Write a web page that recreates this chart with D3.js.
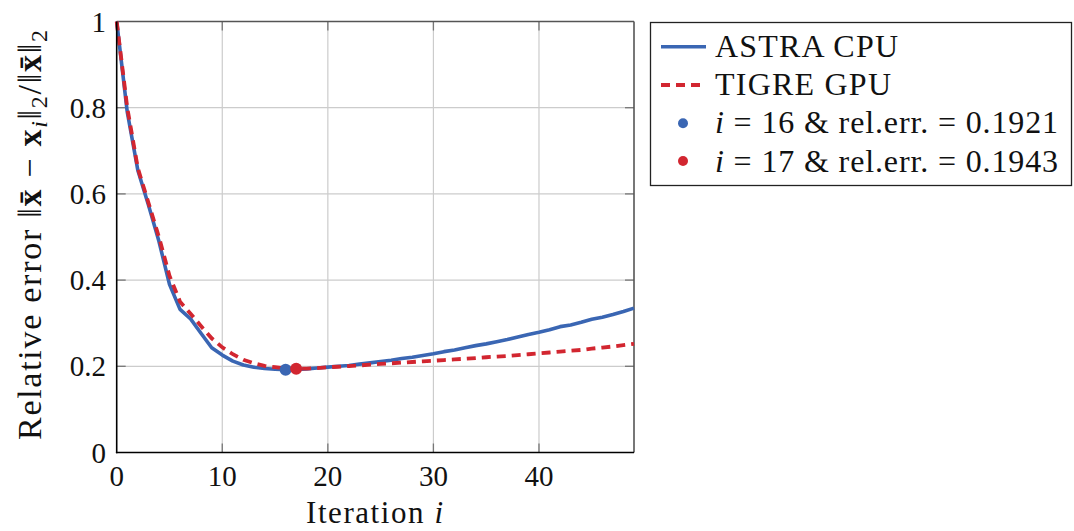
<!DOCTYPE html>
<html><head><meta charset="utf-8">
<script src="https://cdn.jsdelivr.net/npm/d3@7"></script>
<style>
html,body{margin:0;padding:0;background:#fff;}
svg{display:block;}
text{font-family:"Liberation Serif","Times New Roman",serif;fill:#111;}
</style></head>
<body><svg id="chart" width="1074" height="531"></svg>
<script>
const iterations = d3.range(0, 50);
const astraCPU = [1.0,0.79,0.655,0.575,0.49,0.39,0.332,0.31,0.276,0.243,
  0.226,0.212,0.203,0.198,0.195,0.1932,0.1921,0.1925,0.194,0.196,
  0.198,0.200,0.202,0.205,0.208,0.211,0.214,0.218,0.221,0.225,
  0.229,0.234,0.238,0.243,0.248,0.252,0.257,0.262,0.268,0.274,
  0.279,0.285,0.292,0.296,0.302,0.309,0.314,0.320,0.327,0.335];
const tigreGPU = [1.0,0.80,0.66,0.58,0.50,0.41,0.35,0.322,0.293,0.265,
  0.244,0.228,0.215,0.207,0.201,0.198,0.1955,0.1943,0.1948,0.196,
  0.198,0.199,0.2005,0.202,0.204,0.2055,0.207,0.2085,0.210,0.2115,
  0.213,0.2145,0.216,0.2175,0.219,0.221,0.2225,0.224,0.226,0.228,
  0.230,0.232,0.234,0.236,0.238,0.241,0.2435,0.246,0.249,0.252];
const minPoints = [
  {name:"astra", i:16, v:0.1921},
  {name:"tigre", i:17, v:0.1943}
];
const xTicks = [0,10,20,30,40];
const yTicks = [0,0.2,0.4,0.6,0.8,1];
const seriesNames = ["ASTRA CPU","TIGRE GPU"];

const BLUE = "#3a66b3", RED = "#d22630";
const svg = d3.select("#chart");
const x = d3.scaleLinear().domain([0,49]).range([116.7,634]);
const y = d3.scaleLinear().domain([0,1]).range([452.5,21.5]);
const L = x.range()[0], R = x.range()[1], T = y.range()[1], B = y.range()[0];

// grid
const g = svg.append("g");
g.selectAll(".gx").data(xTicks.filter(d=>d>0)).join("line")
  .attr("x1",d=>x(d)).attr("x2",d=>x(d)).attr("y1",T).attr("y2",B)
  .attr("stroke","#cccccc").attr("stroke-width",1.2);
g.selectAll(".gy").data(yTicks.filter(d=>d>0&&d<1)).join("line")
  .attr("x1",L).attr("x2",R).attr("y1",d=>y(d)).attr("y2",d=>y(d))
  .attr("stroke","#cccccc").attr("stroke-width",1.2);

// inner ticks
const tk = 9, tc = "#777";
g.selectAll(".tb").data(xTicks.filter(d=>d>0)).join("line")
  .attr("x1",d=>x(d)).attr("x2",d=>x(d)).attr("y1",B).attr("y2",B-tk).attr("stroke",tc).attr("stroke-width",1.3);
g.selectAll(".tt").data(xTicks.filter(d=>d>0)).join("line")
  .attr("x1",d=>x(d)).attr("x2",d=>x(d)).attr("y1",T).attr("y2",T+tk).attr("stroke",tc).attr("stroke-width",1.3);
g.selectAll(".tl").data(yTicks.filter(d=>d>0&&d<1)).join("line")
  .attr("x1",L).attr("x2",L+tk).attr("y1",d=>y(d)).attr("y2",d=>y(d)).attr("stroke",tc).attr("stroke-width",1.3);
g.selectAll(".tr").data(yTicks.filter(d=>d>0&&d<1)).join("line")
  .attr("x1",R).attr("x2",R-tk).attr("y1",d=>y(d)).attr("y2",d=>y(d)).attr("stroke",tc).attr("stroke-width",1.3);

// frame: top/right gray, left/bottom black
svg.append("line").attr("x1",L).attr("x2",R).attr("y1",T).attr("y2",T).attr("stroke","#555").attr("stroke-width",1.6);
svg.append("line").attr("x1",R).attr("x2",R).attr("y1",T).attr("y2",B).attr("stroke","#555").attr("stroke-width",1.6);

// lines
const line = d3.line().x((d,i)=>x(iterations[i])).y(d=>y(d));
svg.append("path").datum(astraCPU).attr("d",line).attr("fill","none")
  .attr("stroke",BLUE).attr("stroke-width",3.6).attr("stroke-linejoin","round");
svg.append("path").datum(tigreGPU).attr("d",line).attr("fill","none")
  .attr("stroke",RED).attr("stroke-width",3.8).attr("stroke-dasharray","9,6");

// markers
svg.selectAll(".mk").data(minPoints).join("circle")
  .attr("cx",d=>x(d.i)).attr("cy",d=>y(d.v)).attr("r",6)
  .attr("fill",d=>d.name==="astra"?BLUE:RED);

svg.append("line").attr("x1",L).attr("x2",L).attr("y1",T).attr("y2",B+0.8).attr("stroke","#000").attr("stroke-width",1.6);
svg.append("line").attr("x1",L-0.8).attr("x2",R).attr("y1",B).attr("y2",B).attr("stroke","#000").attr("stroke-width",1.6);

// tick labels
svg.selectAll(".xl").data(xTicks).join("text")
  .attr("x",d=>x(d)).attr("y",486).attr("text-anchor","middle")
  .style("font-size","29px").text(d=>d3.format("d")(d));
svg.selectAll(".yl").data(yTicks).join("text")
  .attr("x",106).attr("y",d=>y(d)+10).attr("text-anchor","end")
  .style("font-size","29px").text(d=>d===0||d===1?String(d):d3.format(".1f")(d));

// axis titles
const xt = svg.append("text").attr("x",306).attr("y",523)
  .attr("textLength",137).attr("lengthAdjust","spacing").style("font-size","31px");
xt.append("tspan").text("Iteration ");
xt.append("tspan").style("font-style","italic").text("i");

const yt = svg.append("text").attr("transform",`translate(41,440) rotate(-90)`)
  .attr("textLength",410).attr("lengthAdjust","spacing").style("font-size","34px");
yt.append("tspan").text("Relative error \u2016");
yt.append("tspan").style("font-weight","bold").text("x\u0304");
yt.append("tspan").text(" \u2212 ");
yt.append("tspan").style("font-weight","bold").text("x");
yt.append("tspan").attr("dy",6).style("font-style","italic").style("font-size","24px").text("i");
yt.append("tspan").attr("dy",-6).text("\u2016");
yt.append("tspan").attr("dy",6).style("font-size","24px").text("2");
yt.append("tspan").attr("dy",-6).text("/\u2016");
yt.append("tspan").style("font-weight","bold").text("x\u0304");
yt.append("tspan").text("\u2016");
yt.append("tspan").attr("dy",6).style("font-size","24px").text("2");

// legend
const lg = svg.append("g");
lg.append("rect").attr("x",650.5).attr("y",22.5).attr("width",421).attr("height",163)
  .attr("fill","#fff").attr("stroke","#222").attr("stroke-width",1.3);
lg.append("line").attr("x1",661).attr("x2",706).attr("y1",46.7).attr("y2",46.7).attr("stroke",BLUE).attr("stroke-width",3.6);
lg.append("line").attr("x1",661).attr("x2",706).attr("y1",85).attr("y2",85).attr("stroke",RED).attr("stroke-width",3.8).attr("stroke-dasharray","9,6");
lg.append("circle").attr("cx",683).attr("cy",123.3).attr("r",5).attr("fill",BLUE);
lg.append("circle").attr("cx",683).attr("cy",161).attr("r",5).attr("fill",RED);
lg.append("text").attr("x",715).attr("y",57).attr("textLength",183).attr("lengthAdjust","spacing")
  .style("font-size","32px").text(seriesNames[0]);
lg.append("text").attr("x",715).attr("y",94.5).attr("textLength",176).attr("lengthAdjust","spacing")
  .style("font-size","32px").text(seriesNames[1]);
minPoints.forEach((p,k)=>{
  const t = lg.append("text").attr("x",715).attr("y",[133,171.5][k])
    .attr("textLength",343).attr("lengthAdjust","spacing").style("font-size","32px");
  t.append("tspan").style("font-style","italic").text("i");
  t.append("tspan").text(` = ${p.i} & rel.err. = ${p.v.toFixed(4)}`);
});
</script></body></html>
